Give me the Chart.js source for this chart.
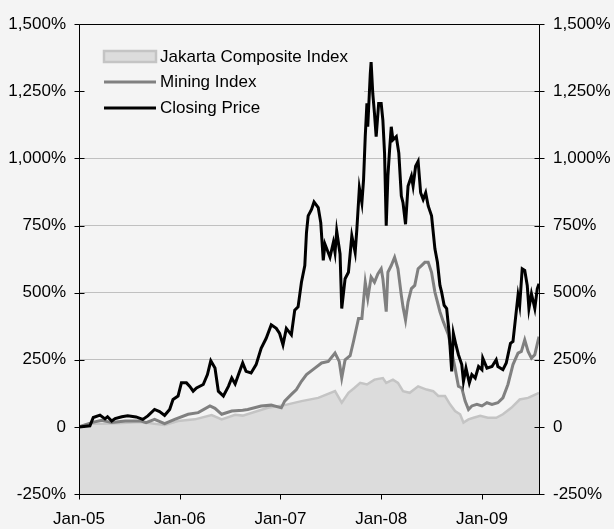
<!DOCTYPE html>
<html>
<head>
<meta charset="utf-8">
<script src="https://cdn.jsdelivr.net/npm/chart.js@4.4.1/dist/chart.umd.min.js"></script>
<style>
  html, body { margin: 0; padding: 0; background: #f4f4f4; }
  #wrap { width: 614px; height: 529px; }
</style>
</head>
<body>
<div id="wrap"><canvas id="c" width="614" height="529"></canvas></div>
<script>
// ---- Data (x = months since Jan 2005, y = % change) ----
const tickMonths = [0, 12, 24, 36, 48];
const tickLabels = ['Jan-05', 'Jan-06', 'Jan-07', 'Jan-08', 'Jan-09'];
const seriesNames = ['Jakarta Composite Index', 'Mining Index', 'Closing Price'];

const jciMonths = [0,0.8,1.6,3.9,7.4,9.0,10.2,11.8,13.8,15.8,17.0,18.6,19.5,22.5,24.5,26.5,28.5,30.5,31.3,32.1,32.8,33.5,34.3,35.2,36.2,36.6,37.4,38.0,38.6,39.4,40.4,41.4,42.2,42.8,43.6,44.2,44.8,45.4,45.8,46.4,47.0,47.8,48.7,49.7,50.5,51.5,52.5,53.5,54.8];
const jciValues = [0,8,12,13,18,12,7,22,28,44,28,45,42,71,81,96,108,133,90,127,145,164,158,176,182,164,176,164,133,127,151,139,133,115,115,84,59,47,16,28,34,41,34,34,47,71,102,108,127];

const miningMonths = [0,1.5,2.7,3.9,5.5,7.4,8.0,9.0,10.2,11.4,13.0,14.2,15.6,16.2,17.0,18.2,19.5,20.1,21.7,22.9,24.1,24.5,25.3,25.9,26.5,27.1,28.1,28.9,29.7,30.5,31.0,31.3,31.7,32.3,32.7,33.3,33.7,34.1,34.4,34.8,35.2,35.6,36.0,36.2,36.6,36.8,37.2,37.6,38.0,38.4,38.6,38.9,39.2,39.6,40.0,40.4,40.8,41.2,41.6,42.0,42.4,43.0,43.4,44.0,44.4,44.8,45.2,45.6,46.0,46.4,46.8,47.4,48.0,48.6,49.2,49.9,50.5,51.1,51.7,52.3,52.7,53.1,53.5,53.9,54.3,54.8];
const miningValues = [0,16,25,16,22,22,16,28,12,28,47,53,78,69,47,59,62,65,78,81,71,96,121,139,170,195,219,238,244,275,244,182,250,265,318,404,404,539,478,558,539,570,589,552,429,576,601,632,589,490,447,398,466,515,527,589,601,613,613,576,502,429,392,343,281,219,151,145,96,65,78,84,78,90,84,90,108,158,232,275,281,324,281,256,269,336];

const closeMonths = [0,1.3,1.7,2.5,3.1,3.4,3.9,4.3,5.1,5.8,6.8,7.6,8.2,9.0,9.6,10.2,10.8,11.2,11.8,12.2,12.8,13.2,13.6,14.0,14.8,15.3,15.7,16.2,16.6,17.2,17.8,18.2,18.6,19.0,19.5,19.9,20.5,21.1,21.7,22.3,22.9,23.5,23.9,24.3,24.7,25.3,25.7,26.1,26.5,26.9,27.1,27.3,27.7,28.0,28.5,28.8,29.1,29.3,29.9,30.3,30.5,30.7,31.1,31.3,31.7,32.1,32.5,32.9,33.1,33.4,33.7,33.9,34.1,34.3,34.4,34.7,34.8,35.0,35.2,35.4,35.7,36.0,36.2,36.4,36.6,36.8,37.0,37.2,37.4,37.8,38.1,38.4,38.6,38.9,39.2,39.6,39.8,40.1,40.4,40.7,41.0,41.3,41.6,42.0,42.4,42.7,43.0,43.2,43.5,43.8,44.1,44.4,44.6,44.9,45.2,45.6,45.8,46.1,46.5,46.8,47.2,47.6,48.0,48.1,48.6,49.2,49.7,49.9,50.5,50.9,51.4,51.7,52.0,52.3,52.5,52.8,53.1,53.4,53.6,53.9,54.3,54.6,54.8];
const closeValues = [0,4,35,44,30,38,22,31,38,41,37,28,41,65,57,43,65,102,115,164,164,151,133,145,158,195,246,219,133,115,151,182,160,195,238,207,201,232,293,330,380,367,348,306,367,343,435,447,539,601,724,786,810,838,817,761,620,681,632,687,650,730,644,441,552,576,712,650,736,890,835,921,1081,1205,1118,1315,1359,1241,1168,1081,1205,1205,1143,1020,749,934,1032,1118,1069,1081,1020,860,835,755,897,934,897,971,989,872,847,872,823,786,663,613,527,502,453,441,348,207,348,306,269,232,170,219,164,195,182,225,213,256,219,225,250,225,213,238,311,318,404,490,453,589,583,527,441,496,441,515,533];

const yMin = -250, yMax = 1500, yStep = 250, xMax = 54.8;

// ---- Styles ----
const BG = '#f4f4f4';
const FONT = "'Liberation Sans', Arial, sans-serif";
const colJciFill = '#dcdcdc', colJciLine = '#c4c4c4', colMining = '#808080', colClose = '#000000';

const toPts = (xs, ys) => xs.map((x, i) => ({ x: x, y: ys[i] }));

function fmtPct(v) {
  if (v === 0) return '0';
  return v.toLocaleString('en-US') + '%';
}

const bgPlugin = {
  id: 'bg',
  beforeDraw(chart) {
    const ctx = chart.ctx;
    ctx.save();
    ctx.fillStyle = BG;
    ctx.fillRect(0, 0, chart.width, chart.height);
    ctx.restore();
  },
  beforeDatasetsDraw(chart) {
    // legend box background hides the grid behind it
    const ctx = chart.ctx, a = chart.chartArea;
    ctx.save();
    ctx.fillStyle = BG;
    ctx.fillRect(a.left + 1, 38, 364 - a.left - 1, 84);
    ctx.restore();
  }
};

const framePlugin = {
  id: 'frame',
  afterDatasetsDraw(chart) {
    const ctx = chart.ctx, a = chart.chartArea;
    const L = Math.round(a.left) + 0.5, R = Math.round(a.right) + 0.5;
    const T = Math.round(a.top) + 0.5, B = Math.round(a.bottom) + 0.5;
    ctx.save();
    ctx.strokeStyle = '#000';
    ctx.lineWidth = 1;
    ctx.beginPath();
    ctx.moveTo(L, T); ctx.lineTo(R, T);
    ctx.moveTo(L, T); ctx.lineTo(L, B);
    ctx.moveTo(R, T); ctx.lineTo(R, B);
    ctx.moveTo(L, B); ctx.lineTo(R, B);
    const ys = chart.scales.y;
    for (let v = yMin; v <= yMax; v += yStep) {
      const py = Math.round(ys.getPixelForValue(v)) + 0.5;
      ctx.moveTo(L - 5, py); ctx.lineTo(L + (v === yMax ? 0 : 5), py);
      ctx.moveTo(R - (v === yMax ? 0 : 5), py); ctx.lineTo(R + 5, py);
    }
    const xs = chart.scales.x;
    tickMonths.forEach(m => {
      const px = Math.round(xs.getPixelForValue(m)) + 0.5;
      ctx.moveTo(px, B); ctx.lineTo(px, B + 5);
    });
    ctx.stroke();

    // legend
    const rows = [57, 82, 108];
    const sx0 = 104, sx1 = 156;
    ctx.fillStyle = colJciFill;
    ctx.fillRect(sx0, 51, sx1 - sx0, 11);
    ctx.strokeStyle = colJciLine;
    ctx.lineWidth = 2.5;
    ctx.strokeRect(sx0, 51, sx1 - sx0, 11);
    ctx.lineWidth = 3;
    ctx.strokeStyle = colMining;
    ctx.beginPath(); ctx.moveTo(sx0, rows[1]); ctx.lineTo(sx1, rows[1]); ctx.stroke();
    ctx.strokeStyle = colClose;
    ctx.beginPath(); ctx.moveTo(sx0, rows[2]); ctx.lineTo(sx1, rows[2]); ctx.stroke();
    ctx.fillStyle = '#000';
    ctx.font = '17px ' + FONT;
    ctx.textBaseline = 'middle';
    ctx.textAlign = 'left';
    seriesNames.forEach((n, i) => ctx.fillText(n, 160, rows[i]));
    ctx.restore();
  }
};

new Chart(document.getElementById('c'), {
  type: 'line',
  data: {
    datasets: [
      {
        label: seriesNames[0], data: toPts(jciMonths, jciValues),
        borderColor: colJciLine, backgroundColor: colJciFill, borderWidth: 2.5,
        fill: 'start', pointRadius: 0, tension: 0, order: 3
      },
      {
        label: seriesNames[1], data: toPts(miningMonths, miningValues),
        borderColor: colMining, borderWidth: 3, fill: false,
        pointRadius: 0, tension: 0, order: 2
      },
      {
        label: seriesNames[2], data: toPts(closeMonths, closeValues),
        borderColor: colClose, borderWidth: 3, fill: false,
        pointRadius: 0, tension: 0, order: 1
      }
    ]
  },
  options: {
    responsive: false,
    animation: false,
    events: [],
    layout: { padding: { top: 20, left: 0, right: 0, bottom: 0 } },
    plugins: { legend: { display: false }, tooltip: { enabled: false } },
    scales: {
      x: {
        type: 'linear', min: 0, max: xMax,
        afterBuildTicks: s => { s.ticks = tickMonths.map(v => ({ value: v })); },
        afterFit: s => { s.height = 35; },
        grid: { display: false, drawTicks: false },
        border: { display: false },
        ticks: {
          color: '#000', font: { family: FONT, size: 17 }, padding: 15,
          maxRotation: 0, autoSkip: false,
          callback: v => tickLabels[tickMonths.indexOf(v)]
        }
      },
      y: {
        type: 'linear', position: 'left', min: yMin, max: yMax,
        afterFit: s => { s.width = 79; },
        grid: { color: '#c0c0c0', lineWidth: 1, drawTicks: false },
        border: { display: false },
        ticks: {
          stepSize: yStep, color: '#000', font: { family: FONT, size: 17 },
          padding: 13, callback: v => fmtPct(v)
        }
      },
      y2: {
        type: 'linear', position: 'right', min: yMin, max: yMax,
        afterFit: s => { s.width = 75; },
        grid: { drawOnChartArea: false, drawTicks: false },
        border: { display: false },
        ticks: {
          stepSize: yStep, color: '#000', font: { family: FONT, size: 17 },
          padding: 14, callback: v => fmtPct(v)
        }
      }
    }
  },
  plugins: [bgPlugin, framePlugin]
});
</script>
</body>
</html>
